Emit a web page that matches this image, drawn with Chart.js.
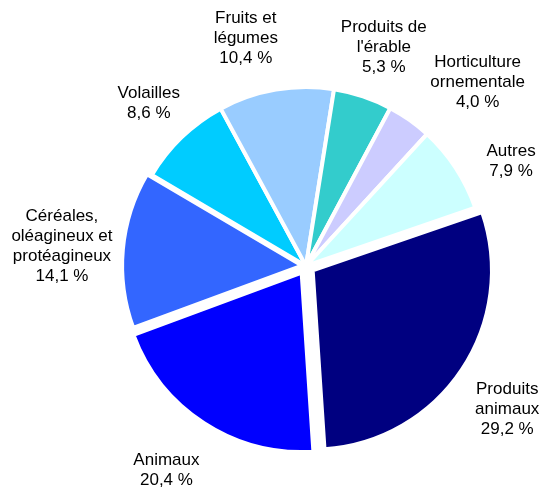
<!DOCTYPE html>
<html>
<head>
<meta charset="utf-8">
<script src="https://cdn.jsdelivr.net/npm/chart.js@4"></script>
<style>
  body { margin: 0; background: #fff; }
</style>
</head>
<body>
<canvas id="pie" width="546" height="492"></canvas>
<script>
const categories = [
  ['Produits', 'animaux'],
  ['Animaux'],
  ['Céréales,', 'oléagineux et', 'protéagineux'],
  ['Volailles'],
  ['Fruits et', 'légumes'],
  ['Produits de', "l'érable"],
  ['Horticulture', 'ornementale'],
  ['Autres']
];
const shares = [29.2, 20.4, 14.1, 8.6, 10.4, 5.3, 4.0, 7.9];
const colors = ['#000080', '#0000FF', '#3366FF', '#00CCFF', '#99CCFF', '#33CCCC', '#CCCCFF', '#CCFFFF'];

// small hand nudges for the outside labels (Excel had them moved a bit)
const labelNudge = [[3, 12], [-10, 5], [-7, 2], [8, 9], [-20, 7], [2, 7], [34, 10], [6, 26]];

const fmt = v => v.toFixed(1).replace('.', ',') + ' %';

const outsideLabels = {
  id: 'outsideLabels',
  afterDatasetsDraw(chart) {
    const ctx = chart.ctx;
    const arcs = chart.getDatasetMeta(0).data;
    ctx.save();
    ctx.font = '17px "Liberation Sans", Arial, sans-serif';
    ctx.fillStyle = '#000';
    ctx.textAlign = 'center';
    ctx.textBaseline = 'middle';
    const lineH = 20;
    arcs.forEach((arc, i) => {
      const p = arc.getProps(['x', 'y', 'startAngle', 'endAngle', 'outerRadius']);
      const mid = (p.startAngle + p.endAngle) / 2;
      const d = p.outerRadius + 59;
      const cx = p.x + Math.cos(mid) * d + labelNudge[i][0];
      const cy = p.y + Math.sin(mid) * d + labelNudge[i][1];
      const lines = categories[i].concat([fmt(shares[i])]);
      const top = cy - (lines.length - 1) * lineH / 2;
      lines.forEach((t, k) => ctx.fillText(t, cx, top + k * lineH));
    });
    ctx.restore();
  }
};

new Chart(document.getElementById('pie'), {
  type: 'pie',
  data: {
    labels: categories.map(c => c.join(' ')),
    datasets: [{
      data: shares,
      backgroundColor: colors,
      borderColor: '#fff',
      borderWidth: 4,
      // animal slices pulled out, cereals a little
      offset: [32, 32, 16, 0, 0, 0, 0, 0]
    }]
  },
  options: {
    responsive: false,
    animation: false,
    rotation: 71,
    radius: 179,
    layout: { padding: { left: 66, right: 0, top: 40, bottom: 0 } },
    plugins: {
      legend: { display: false },
      tooltip: { enabled: false }
    }
  },
  plugins: [outsideLabels]
});
</script>
</body>
</html>
